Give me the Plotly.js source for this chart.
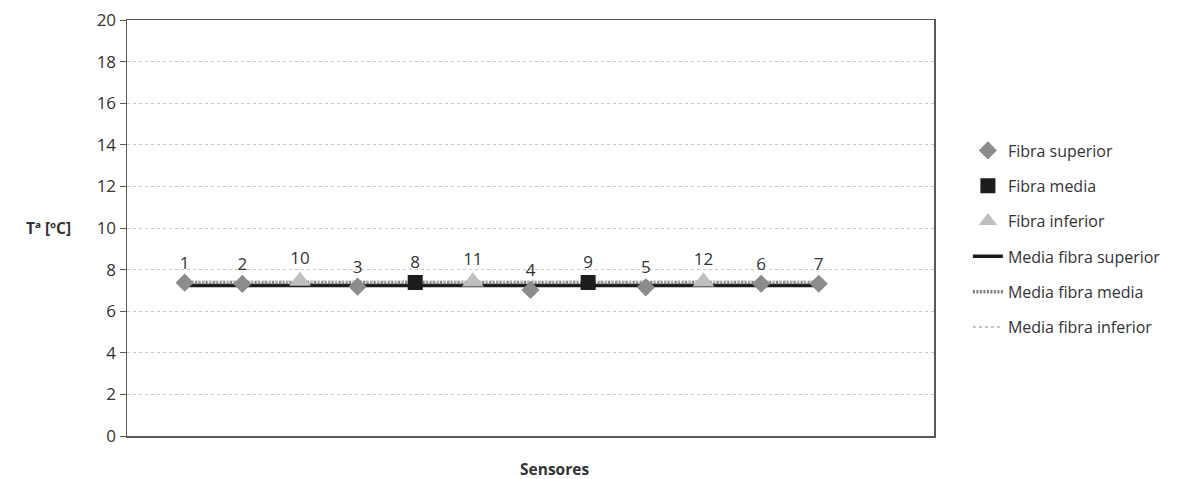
<!DOCTYPE html>
<html>
<head>
<meta charset="utf-8">
<script src="https://cdn.plot.ly/plotly-3.0.1.min.js"></script>
<style>html,body{margin:0;padding:0;background:#fff;}#chart{width:1182px;height:479px;}</style>
</head>
<body>
<div id="chart"></div>
<script>
// Position along the horizontal axis, sensor label, temperature (ºC)
const supPos = [1, 2, 4, 7, 9, 11, 12];
const supLabels = ['1', '2', '3', '4', '5', '6', '7'];
const supTemp = [7.37, 7.31, 7.18, 7.02, 7.15, 7.32, 7.32];

const medPos = [5, 8];
const medLabels = ['8', '9'];
const medTemp = [7.38, 7.38];

const infPos = [3, 6, 10];
const infLabels = ['10', '11', '12'];
const infTemp = [7.45, 7.41, 7.41];

const lineSpan = [1, 12];
const yTicks = [0, 2, 4, 6, 8, 10, 12, 14, 16, 18, 20];

const mean = a => a.reduce((s, v) => s + v, 0) / a.length;
const FONT = 'Open Sans, Noto Sans, sans-serif';

const labelFont = {family: FONT, size: 17, color: '#333333'};

const traces = [
  {name: 'Media fibra superior', x: lineSpan, y: lineSpan.map(() => mean(supTemp)), mode: 'lines',
   line: {color: '#1c1c1c', width: 3.5}, legendrank: 4, legendgroup: 'd'},
  {name: 'Media fibra media', x: lineSpan, y: lineSpan.map(() => mean(medTemp)), mode: 'lines',
   line: {color: '#7a7a7a', width: 3.5, dash: '2px,1.5px'}, legendrank: 5, legendgroup: 'e'},
  {name: 'Media fibra inferior', x: lineSpan, y: lineSpan.map(() => mean(infTemp)), mode: 'lines',
   line: {color: '#c4c4c4', width: 2, dash: 'dot'}, legendrank: 6, legendgroup: 'f'},
  {name: 'Fibra superior', x: supPos, y: supTemp, text: supLabels, mode: 'markers+text',
   textposition: 'top center', textfont: labelFont, cliponaxis: false,
   marker: {symbol: 'diamond', size: 14, color: '#8c8c8c'}, legendrank: 1, legendgroup: 'a'},
  {name: 'Fibra media', x: medPos, y: medTemp, text: medLabels, mode: 'markers+text',
   textposition: 'top center', textfont: labelFont, cliponaxis: false,
   marker: {symbol: 'square', size: 15, color: '#1e1c1c'}, legendrank: 2, legendgroup: 'b'},
  {name: 'Fibra inferior', x: infPos, y: infTemp, text: infLabels, mode: 'markers+text',
   textposition: 'top center', textfont: labelFont, cliponaxis: false,
   marker: {symbol: 'triangle-up', size: 19, color: '#bfbfbf'}, legendrank: 3, legendgroup: 'c'}
];

const layout = {
  width: 1182, height: 479,
  margin: {l: 126.5, r: 248, t: 19.5, b: 43},
  paper_bgcolor: '#ffffff', plot_bgcolor: '#ffffff',
  font: {family: FONT, size: 17, color: '#333333'},
  showlegend: true,
  legend: {x: 1.042, xanchor: 'left', y: 0.727, yanchor: 'top',
           traceorder: 'grouped', tracegroupgap: 11.5,
           font: {family: FONT, size: 16, color: '#333333'}, bgcolor: 'rgba(0,0,0,0)'},
  xaxis: {range: [0, 14], showticklabels: false, ticks: '', showgrid: false, zeroline: false,
          showline: true, mirror: true, linecolor: '#595959', linewidth: 1.5},
  yaxis: {range: [0, 20], tickvals: yTicks, ticktext: yTicks.map(String), ticks: 'outside', ticklen: 6,
          tickcolor: '#595959', showline: true, mirror: true, linecolor: '#595959', linewidth: 1.5,
          showgrid: true, gridcolor: '#c8c8c8', griddash: '3px,3px', gridwidth: 1, zeroline: false,
          tickfont: {family: FONT, size: 17, color: '#333333'}},
  annotations: [
    {text: '<b>Tª [ºC]</b>', xref: 'paper', yref: 'paper', x: -0.097, y: 0.5,
     xanchor: 'center', yanchor: 'middle', showarrow: false,
     font: {family: FONT, size: 15.5, color: '#333333'}},
    {text: '<b>Sensores</b>', xref: 'paper', yref: 'paper', x: 0.53, y: -0.079,
     xanchor: 'center', yanchor: 'middle', showarrow: false,
     font: {family: FONT, size: 15.5, color: '#333333'}}
  ]
};

Plotly.newPlot('chart', traces, layout, {displayModeBar: false, staticPlot: true});
</script>
</body>
</html>
